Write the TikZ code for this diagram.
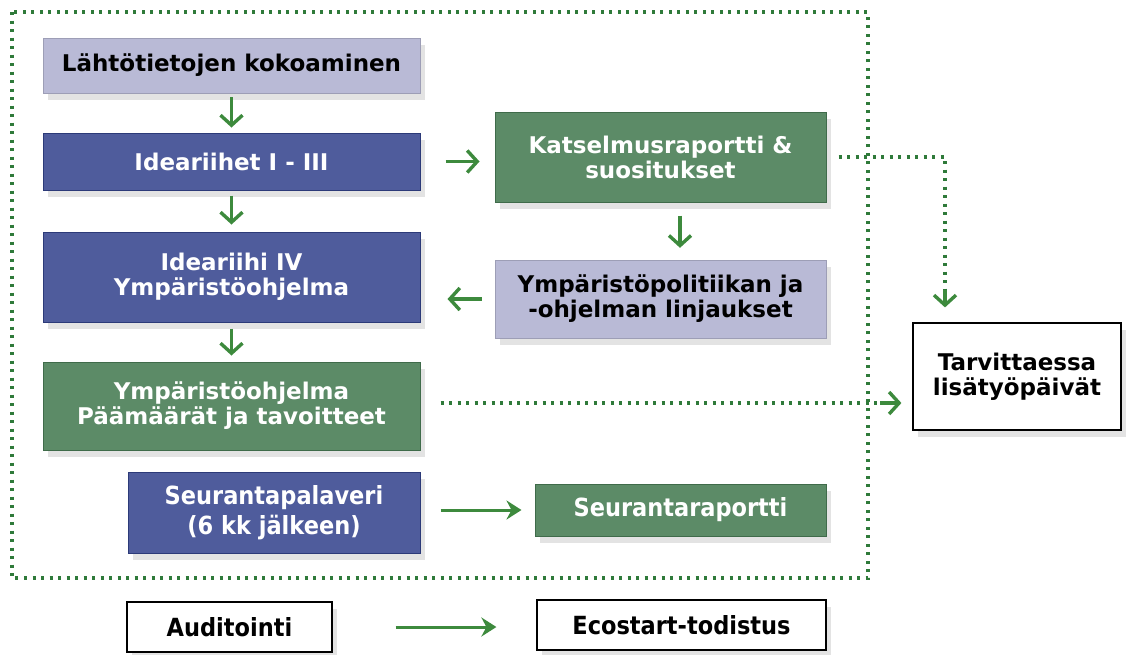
\documentclass[tikz,border=0pt]{standalone}
\usepackage{fontspec}
\setmainfont{DejaVu Sans}
\newfontfamily\condfont{DejaVu Sans Condensed}
\usetikzlibrary{arrows.meta,shadows}

\definecolor{lavfill}{HTML}{B9BAD6}
\definecolor{bluefill}{HTML}{4F5C9C}
\definecolor{blueedge}{HTML}{2C3A78}
\definecolor{greenfill}{HTML}{5C8B67}
\definecolor{greenedge}{HTML}{3F6B4A}
\definecolor{arrowgreen}{HTML}{3D8A3D}
\definecolor{dotgreen}{HTML}{2F7A3A}

\tikzset{
	box/.style={rectangle, inner sep=2pt, align=center, font=\bfseries\fontsize{23}{25}\selectfont,
		drop shadow={opacity=0.22, shadow xshift=5pt, shadow yshift=-7pt}},
	narrow/.style={font=\condfont\bfseries\fontsize{25}{30}\selectfont},
	lavbox/.style={box, fill=lavfill, draw=lavfill!85!black, text=black},
	bluebox/.style={box, fill=bluefill, draw=blueedge, line width=1pt, text=white},
	greenbox/.style={box, fill=greenfill, draw=greenedge, line width=1pt, text=white},
	whitebox/.style={box, fill=white, draw=black, line width=1.2pt, text=black},
	flow/.style={arrowgreen, line width=3.4pt, -{Straight Barb[length=10pt,width=22pt]}},
	longflow/.style={arrowgreen, line width=3pt, -{Stealth[length=15pt,width=19pt,inset=5pt]}},
	dotline/.style={dotgreen, line width=3.2pt, dash pattern=on 3pt off 5.5pt}
}

\begin{document}
\begin{tikzpicture}[x=1pt, y=-1pt]
	\useasboundingbox (0,0) rectangle (1128,654);
	\draw [dotline] (12,12) rectangle (868,578);

	% left column
	\node[lavbox, minimum width=377pt, minimum height=55pt] (start) at (231.5,65.5) {Lähtötietojen kokoaminen};
	\node[bluebox, minimum width=377pt, minimum height=57pt] (ideas) at (231.5,161.5) {Ideariihet I - III};
	\node[bluebox, minimum width=377pt, minimum height=90pt] (ideafour) at (231.5,277) {Ideariihi IV\\Ympäristöohjelma};
	\node[greenbox, minimum width=377pt, minimum height=88pt] (goals) at (231.5,406) {Ympäristöohjelma\\Päämäärät ja tavoitteet};
	\node[bluebox, narrow, minimum width=292pt, minimum height=81pt] (meeting) at (274,512.5) {Seurantapalaveri\\(6 kk jälkeen)};

	% right column
	\node[greenbox, minimum width=331pt, minimum height=90pt] (review) at (660.5,157) {Katselmusraportti \&\\suositukset};
	\node[lavbox, minimum width=331pt, minimum height=78pt] (policy) at (660.5,299) {Ympäristöpolitiikan ja\\-ohjelman linjaukset};
	\node[greenbox, narrow, minimum width=291pt, minimum height=52pt] (report) at (680.5,510) {Seurantaraportti};
	\node[whitebox, minimum width=208pt, minimum height=107pt] (extra) at (1017,376.5) {Tarvittaessa\\lisätyöpäivät};

	% outside the frame
	\node[whitebox, narrow, minimum width=205pt, minimum height=50pt] (audit) at (229.5,627) {Auditointi};
	\node[whitebox, narrow, minimum width=289pt, minimum height=50pt] (cert) at (681.5,625) {Ecostart-todistus};

	\draw [flow, shorten <=4pt, shorten >=5pt] (start) -- (ideas);
	\draw [flow, shorten <=5pt, shorten >=7pt] (ideas) -- (ideafour);
	\draw [flow, shorten <=6pt, shorten >=6pt] (ideafour) -- (goals);
	\draw [flow, shorten <=25pt, shorten >=15pt] (ideas.east) -- (ideas.east -| review.west);
	\draw [flow, shorten <=13pt, shorten >=12pt] (review.south -| 680,0) -- (policy.north -| 680,0);
	\draw [flow, shorten <=13pt, shorten >=27pt] (policy.west) -- (policy.west -| ideafour.east);
	\draw [longflow, shorten <=20pt, shorten >=13pt] (meeting.east |- report.west) -- (report.west);
	\draw [longflow, shorten <=63pt, shorten >=40pt] (audit.east) -- (audit.east -| cert.west);

	% dotted routes to the extra days
	\coordinate (topdrop) at (945,290);
	\coordinate (sidedrop) at (880,403);
	\draw [dotline] ([xshift=12pt]review.east) -| (topdrop);
	\draw [flow, shorten >=15pt] (topdrop) -- (topdrop |- extra.north);
	\draw [dotline] ([xshift=20pt]goals.east |- sidedrop) -- (sidedrop);
	\draw [flow, shorten >=11pt] (sidedrop) -- (sidedrop -| extra.west);
\end{tikzpicture}
\end{document}
